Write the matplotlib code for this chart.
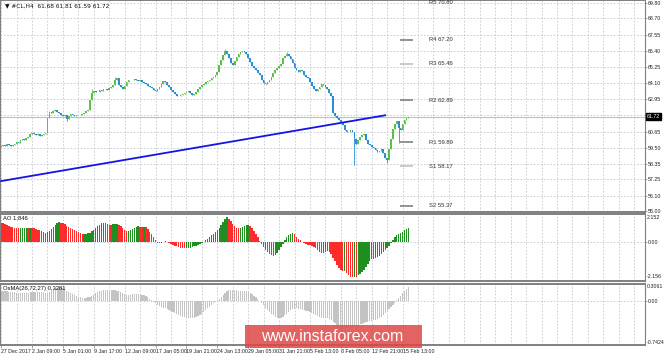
import numpy as np
import matplotlib
matplotlib.use("Agg")
import matplotlib.pyplot as plt
from matplotlib.patches import Rectangle
from matplotlib.ticker import MultipleLocator
from matplotlib.transforms import blended_transform_factory

# H4 closes for #CL
closes = np.array([
    59.60, 59.68, 59.62, 59.75, 59.70, 59.66, 59.72, 59.80, 59.90, 59.85,
    60.05, 60.10, 60.05, 60.20, 60.30, 60.45, 60.55, 60.50, 60.40, 60.45,
    60.35, 60.40, 60.50, 60.55, 61.60, 62.05, 62.00, 62.10, 62.15, 62.05,
    61.95, 61.85, 61.75, 61.80, 61.55, 61.75, 61.90, 61.85, 61.75, 61.80,
    61.85, 61.80, 61.90, 62.00, 62.10, 62.20, 62.90, 63.40, 63.55, 63.45,
    63.50, 63.60, 63.55, 63.65, 63.70, 63.60, 63.75, 63.85, 63.95, 64.30,
    64.45, 63.95, 63.80, 63.70, 63.90, 64.15, 64.30, 64.35, 64.30, 64.40,
    64.30, 64.25, 64.30, 64.20, 64.10, 64.00, 63.90, 63.80, 63.75, 63.60,
    63.55, 63.65, 63.85, 64.05, 64.25, 64.15, 63.95, 63.80, 63.60, 63.45,
    63.35, 63.20, 63.15, 63.25, 63.30, 63.40, 63.45, 63.55, 63.40, 63.25,
    63.35, 63.50, 63.65, 63.80, 63.95, 64.05, 64.15, 64.25, 64.35, 64.45,
    64.50, 64.65, 64.90, 65.40, 65.75, 66.10, 66.40, 66.20, 65.90, 65.55,
    65.40, 65.65, 65.95, 66.15, 66.30, 66.35, 66.30, 66.15, 65.90, 65.60,
    65.35, 65.15, 65.05, 64.85, 64.65, 64.35, 64.10, 64.00, 64.15, 64.30,
    64.50, 64.80, 65.05, 65.20, 65.30, 65.45, 65.85, 66.05, 66.15, 66.05,
    65.80, 65.50, 65.20, 65.00, 64.90, 65.05, 64.95, 64.70, 64.55, 64.45,
    64.15, 63.90, 63.70, 63.55, 63.70, 63.85, 64.05, 63.95, 63.85, 63.65,
    63.40, 63.15, 61.95, 61.75, 61.65, 61.50, 61.30, 61.15, 60.75, 60.60,
    60.65, 60.75, 60.60, 60.10, 59.80, 60.05, 60.25, 60.40, 60.50, 60.05,
    59.80, 59.70, 59.55, 59.50, 59.35, 59.20, 59.30, 59.40, 59.10, 58.80,
    58.60, 59.40, 60.10, 60.85, 61.20, 61.40, 60.90, 60.75, 61.20, 61.45,
    61.60, 61.72,
])
first_open = 59.55
wick_highs = {47: 63.65, 59: 64.55, 116: 66.55, 148: 66.30}
wick_lows = {34: 61.38, 183: 58.30, 200: 58.45, 206: 59.85}

ao_values = np.array([
    1.520, 1.456, 1.384, 1.320, 1.264, 1.208, 1.160, 1.112, 1.072, 1.056,
    1.064, 1.080, 1.088, 1.096, 1.088, 1.096, 1.088, 1.064, 1.024, 0.960,
    0.896, 0.824, 0.760, 0.704, 0.752, 0.864, 1.008, 1.160, 1.312, 1.456,
    1.536, 1.520, 1.472, 1.376, 1.272, 1.168, 1.080, 1.008, 0.944, 0.848,
    0.752, 0.664, 0.624, 0.632, 0.648, 0.672, 0.720, 0.824, 0.944, 1.080,
    1.216, 1.344, 1.456, 1.488, 1.464, 1.408, 1.352, 1.336, 1.376, 1.424,
    1.440, 1.368, 1.216, 1.056, 0.920, 0.816, 0.848, 0.944, 1.040, 1.120,
    1.184, 1.216, 1.200, 1.192, 1.208, 1.152, 0.992, 0.800, 0.592, 0.368,
    0.128, -0.080, -0.120, -0.096, -0.040, 0.024, -0.016, -0.080, -0.160, -0.240,
    -0.312, -0.376, -0.432, -0.480, -0.520, -0.544, -0.528, -0.504, -0.472, -0.432,
    -0.384, -0.328, -0.264, -0.184, -0.096, 0.008, 0.112, 0.232, 0.360, 0.496,
    0.640, 0.784, 0.936, 1.104, 1.320, 1.560, 1.792, 1.944, 1.840, 1.640,
    1.424, 1.248, 1.112, 1.056, 1.088, 1.184, 1.272, 1.328, 1.344, 1.240,
    1.056, 0.848, 0.608, 0.360, 0.080, -0.200, -0.448, -0.672, -0.848, -0.984,
    -1.088, -1.152, -1.048, -0.896, -0.704, -0.464, -0.192, 0.096, 0.352, 0.528,
    0.632, 0.672, 0.576, 0.400, 0.224, 0.096, -0.024, -0.128, -0.208, -0.264,
    -0.304, -0.352, -0.416, -0.528, -0.688, -0.848, -0.896, -0.872, -0.808, -0.784,
    -0.832, -1.008, -1.280, -1.568, -1.856, -2.128, -2.304, -2.368, -2.344, -2.512,
    -2.688, -2.800, -2.832, -2.792, -2.808, -2.704, -2.560, -2.416, -2.240, -2.048,
    -1.824, -1.584, -1.360, -1.408, -1.320, -1.232, -1.128, -1.008, -0.864, -0.696,
    -0.512, -0.312, -0.096, 0.128, 0.336, 0.496, 0.624, 0.712, 0.808, 0.904,
    1.008, 1.096,
])

osma_values = np.array([
    0.1980, 0.2046, 0.2090, 0.2046, 0.1980, 0.1936, 0.1892, 0.1826, 0.1760, 0.1672,
    0.1606, 0.1584, 0.1628, 0.1716, 0.1782, 0.1826, 0.1848, 0.1892, 0.1936, 0.1980,
    0.1980, 0.1914, 0.1804, 0.1672, 0.1738, 0.1980, 0.2266, 0.2530, 0.2750, 0.2882,
    0.2926, 0.2860, 0.2684, 0.2464, 0.2222, 0.1980, 0.1738, 0.1518, 0.1320, 0.1100,
    0.0902, 0.0748, 0.0638, 0.0594, 0.0616, 0.0704, 0.0858, 0.1078, 0.1320, 0.1584,
    0.1826, 0.2024, 0.2178, 0.2288, 0.2332, 0.2354, 0.2332, 0.2310, 0.2288, 0.2266,
    0.2222, 0.2068, 0.1848, 0.1606, 0.1408, 0.1298, 0.1276, 0.1320, 0.1386, 0.1452,
    0.1496, 0.1496, 0.1430, 0.1320, 0.1166, 0.0968, 0.0726, 0.0440, 0.0132, -0.0198,
    -0.0550, -0.0880, -0.1166, -0.1408, -0.1584, -0.1716, -0.1892, -0.2112, -0.2354, -0.2596,
    -0.2816, -0.3014, -0.3212, -0.3388, -0.3564, -0.3696, -0.3806, -0.3872, -0.3916, -0.3894,
    -0.3828, -0.3696, -0.3476, -0.3212, -0.2882, -0.2508, -0.2112, -0.1694, -0.1298, -0.0924,
    -0.0572, -0.0242, 0.0088, 0.0440, 0.0858, 0.1320, 0.1760, 0.2112, 0.2332, 0.2420,
    0.2398, 0.2332, 0.2244, 0.2156, 0.2112, 0.2090, 0.2090, 0.2046, 0.1958, 0.1716,
    0.1408, 0.1078, 0.0726, 0.0352, -0.0066, -0.0528, -0.1012, -0.1518, -0.2002, -0.2464,
    -0.2882, -0.3256, -0.3564, -0.3806, -0.3916, -0.3850, -0.3608, -0.3256, -0.2860, -0.2464,
    -0.2156, -0.1892, -0.1738, -0.1694, -0.1738, -0.1848, -0.1980, -0.2112, -0.2244, -0.2376,
    -0.2552, -0.2772, -0.2992, -0.3212, -0.3432, -0.3608, -0.3740, -0.3806, -0.3850, -0.3916,
    -0.4048, -0.4290, -0.4620, -0.4972, -0.5280, -0.5566, -0.5764, -0.5896, -0.5940, -0.5940,
    -0.5896, -0.5830, -0.5720, -0.5610, -0.5500, -0.5368, -0.5214, -0.5060, -0.4906, -0.4752,
    -0.4620, -0.4510, -0.4400, -0.4312, -0.4224, -0.4092, -0.3916, -0.3520, -0.3080, -0.2640,
    -0.2200, -0.1760, -0.1320, -0.0880, -0.0440, 0.0110, 0.0550, 0.1100, 0.1650, 0.2200,
    0.2640, 0.3014,
])

# trend line anchors (bar index, price)
trend_bars = [0, 199]
trend_prices = [57.13, 61.81]

pivot_names = ["R5", "R4", "R3", "R2", "R1", "S1", "S2"]
pivot_levels = [70.80, 67.20, 65.46, 62.89, 59.89, 58.17, 55.37]

price_ticks = [55.00, 56.10, 57.25, 58.35, 59.50, 60.65, 61.80,
               62.95, 64.10, 65.25, 66.40, 67.55, 68.70, 69.80]
date_labels = ["27 Dec 2017", "2 Jan 09:00", "5 Jan 01:00", "9 Jan 17:00",
               "12 Jan 09:00", "17 Jan 05:00", "19 Jan 21:00", "24 Jan 13:00",
               "29 Jan 05:00", "31 Jan 21:00", "5 Feb 13:00", "8 Feb 05:00",
               "12 Feb 21:00", "15 Feb 13:00"]

title_main = "\u25bc #CL,H4  61.68 61.81 61.59 61.72"
title_ao = "AO 1.846"
title_osma = "OsMA(26,72,27) 0.3281"

# ---------------------------------------------------------------------------
plt.rcParams["font.family"] = ["Liberation Sans", "DejaVu Sans"]
FS = 3.8      # axis labels
FS_T = 4.2    # panel titles / pivot labels
GRID = dict(color="#c4c8d0", linestyle=(0, (2, 2)), linewidth=0.6)
EDGE = "#808080"
TXT = "#202020"

fig = plt.figure(figsize=(6.65, 3.56), dpi=100, facecolor="white")
ax = fig.add_axes([0.0, 0.4045, 0.9699, 0.5955])
ax_ao = fig.add_axes([0.0, 0.2107, 0.9699, 0.1882], sharex=ax)
ax_os = fig.add_axes([0.0, 0.0309, 0.9699, 0.1713], sharex=ax)

n = len(closes)
x = np.arange(n)
xlim = (-0.6, 333.6)

for a in (ax, ax_ao, ax_os):
    a.set_xlim(*xlim)
    a.xaxis.set_major_locator(MultipleLocator(16))
    a.xaxis.set_minor_locator(MultipleLocator(8))
    a.grid(True, which="both", axis="x", **GRID)
    a.set_axisbelow(True)
    a.yaxis.tick_right()
    a.tick_params(axis="y", labelsize=FS, length=1.5, width=0.5, pad=0.6,
                  color=EDGE, labelcolor=TXT)
    a.tick_params(axis="x", which="both", length=0)
    for s in a.spines.values():
        s.set_color(EDGE)
        s.set_linewidth(0.8)
    a.spines["bottom"].set_linewidth(1.4)
    a.spines["top"].set_linewidth(1.4)

plt.setp(ax.get_xticklabels(), visible=False)
plt.setp(ax_ao.get_xticklabels(), visible=False)

# ---- main price panel ----
ax.set_ylim(54.93, 70.01)
ax.set_yticks(price_ticks)
# the 61.80 label sits under the current-price box, as in the terminal
ax.set_yticklabels(["" if abs(p - closes[-1]) < 0.3 else f"{p:.2f}" for p in price_ticks])
ax.grid(True, axis="y", **GRID)

opens = np.r_[first_open, closes[:-1]]
highs = np.maximum(opens, closes)
lows = np.minimum(opens, closes)
for k, v in wick_highs.items():
    highs[k] = v
for k, v in wick_lows.items():
    lows[k] = v
up = closes >= opens
col = np.where(up, "#5cbf4c", "#2b8fd6")
body_lo = np.minimum(opens, closes)
body_h = np.maximum(np.abs(closes - opens), 0.04)
ax.vlines(x, lows, highs, colors=col, linewidth=0.6, zorder=2)
ax.bar(x, body_h, bottom=body_lo, width=0.85, color=col, linewidth=0, zorder=2)

ax.axhline(closes[-1], color="#c0c0c0", linewidth=0.8, zorder=1)
ax.plot(trend_bars, trend_prices, color="#1414e6", linewidth=1.3, zorder=3)

# pivot levels: short segment plus label
for name, lvl in zip(pivot_names, pivot_levels):
    c = "#c0c0c0" if name in ("R3", "S1") else "#808080"
    ax.hlines(lvl, 206.5, 213.5, colors=c, linewidth=1.2, zorder=2)
    ax.text(221.5, min(lvl, 69.80), f"{name} {lvl:.2f}", fontsize=FS_T,
            color="#303030", va="center", ha="left")

ax.text(0.007, 0.975, title_main, transform=ax.transAxes, fontsize=FS_T,
        va="center", ha="left", color="#101010",
        family=["DejaVu Sans"])
tr = blended_transform_factory(ax.transAxes, ax.transData)
ax.text(1.003, closes[-1], f"{closes[-1]:.2f}", transform=tr, fontsize=FS,
        color="white", va="center", ha="left", clip_on=False, zorder=10,
        bbox=dict(facecolor="black", edgecolor="black", pad=0.8))

# ---- AO panel ----
ax_ao.set_ylim(-3.144, 2.216)
ax_ao.set_yticks([0.0])
ax_ao.set_yticklabels(["0.00"])
ax_ao.grid(True, axis="y", **GRID)
ao_up = np.r_[False, ao_values[1:] > ao_values[:-1]]
ax_ao.bar(x, ao_values, width=0.72, linewidth=0,
          color=np.where(ao_up, "#1f8f1f", "#ff2a2a"), zorder=2)
ax_ao.text(0.005, 0.93, title_ao, transform=ax_ao.transAxes, fontsize=FS_T,
           va="center", ha="left", color="#101010")
for lab, fy in (("2.152", 0.955), ("-2.156", 0.064)):
    ax_ao.text(1.003, fy, lab, transform=ax_ao.transAxes, fontsize=FS,
               va="center", ha="left", color=TXT, clip_on=False)

# ---- OsMA panel ----
ax_os.set_ylim(-0.975, 0.367)
ax_os.set_yticks([0.0])
ax_os.set_yticklabels(["0.00"])
ax_os.grid(True, axis="y", **GRID)
ax_os.bar(x, osma_values, width=0.62, linewidth=0, color="#c4c4c4", zorder=2)
ax_os.text(0.005, 0.925, title_osma, transform=ax_os.transAxes, fontsize=FS_T,
           va="center", ha="left", color="#101010")
for lab, fy in (("0.3061", 0.967), ("-0.7424", 0.044)):
    ax_os.text(1.003, fy, lab, transform=ax_os.transAxes, fontsize=FS,
               va="center", ha="left", color=TXT, clip_on=False)

ax_os.set_xticks(np.arange(len(date_labels)) * 16)
ax_os.set_xticklabels(date_labels, fontsize=FS, ha="left", color=TXT)
ax_os.tick_params(axis="x", which="major", length=2, width=0.5, color=EDGE, pad=1.2)

# watermark
fig.patches.append(Rectangle((0.368, 0.022), 0.266, 0.065, transform=fig.transFigure,
                             facecolor="#de4646", edgecolor="none", alpha=0.85, zorder=20))
fig.text(0.5, 0.054, "www.instaforex.com", fontsize=11.5, color="white",
         family="Liberation Sans", ha="center", va="center", zorder=21)

fig.savefig("out.png", dpi=100, facecolor="white")
